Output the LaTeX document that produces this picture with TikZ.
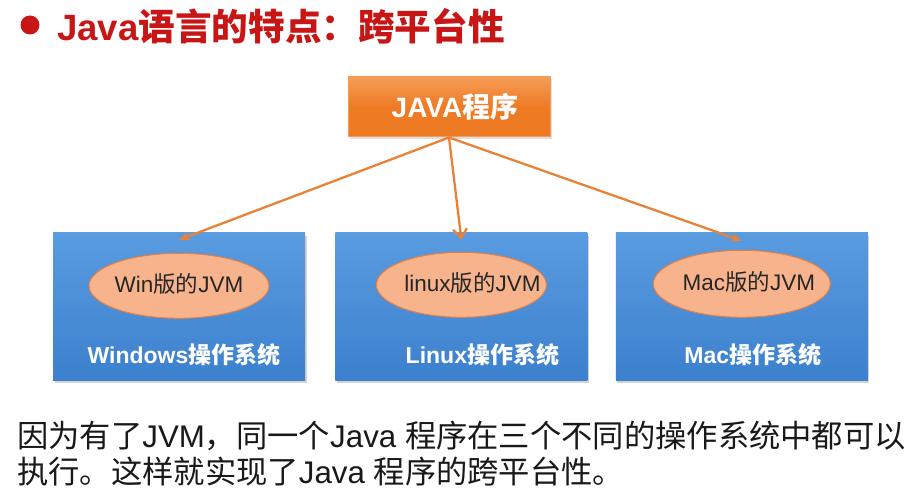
\documentclass[tikz,border=0pt]{standalone}
\usepackage{fontspec}
\setmainfont{Liberation Sans}
\newfontfamily\cjk{Noto Sans CJK SC}
\newcommand{\zh}[1]{{\cjk #1}}
\usetikzlibrary{arrows.meta, positioning, shadows, shapes.geometric}

\definecolor{titlered}{RGB}{200,22,22}
\definecolor{javaorange}{RGB}{238,122,36}
\definecolor{javaorangelight}{RGB}{246,156,86}
\definecolor{osblue}{RGB}{60,128,206}
\definecolor{osbluelight}{RGB}{90,156,224}
\definecolor{jvmfill}{RGB}{247,180,140}
\definecolor{jvmdraw}{RGB}{226,126,70}
\definecolor{arroworange}{RGB}{232,130,56}

\begin{document}
\begin{tikzpicture}[
    x=1pt, y=-1pt,
    >={Stealth[length=11pt, width=9pt]},
    % Define styles for the different node types
    javabox/.style={rectangle, draw=javaorangelight, line width=1pt, top color=javaorangelight, bottom color=javaorange, middle color=javaorange, text=white, font=\fontsize{28}{30}\selectfont\bfseries, minimum width=202pt, minimum height=60pt, inner sep=0pt, drop shadow={opacity=0.25, shadow xshift=2pt, shadow yshift=-2pt}},
    osbox/.style={rectangle, top color=osbluelight, bottom color=osblue, minimum width=252pt, minimum height=147pt, inner sep=0pt, drop shadow={opacity=0.35, shadow xshift=1.5pt, shadow yshift=-3pt}},
    jvmellipse/.style={ellipse, draw=jvmdraw, line width=1pt, fill=jvmfill, minimum width=178pt, minimum height=65pt, inner sep=0pt},
    jvmtext/.style={text=black!85, font=\fontsize{22.5}{24}\selectfont, inner sep=0pt, label distance=0pt, yshift=2pt},
    oslabel/.style={text=white, font=\fontsize{23}{25}\selectfont\bfseries, inner sep=0pt},
    flow/.style={->, draw=arroworange, line width=2.3pt},
]

% bounding box of the slide
\path[use as bounding box] (0,0) rectangle (910,494);

% -------------------------
% Title
% -------------------------
\node (bullet) [circle, fill=titlered, minimum size=19pt, inner sep=0pt] at (30,25) {};
\node (title) [anchor=west, text=titlered, font=\fontsize{36.6}{38}\selectfont\bfseries, inner sep=0pt] at (57,26) {Java\zh{语言的特点：跨平台性}};

% -------------------------
% Program and OS boxes
% -------------------------
\node (java) [javabox] at (449,107) {\hspace*{12pt}JAVA\zh{程序}};

\node (winos) [osbox] at (179,306.5) {};
\node (linuxos) [osbox, right=30pt of winos] {};
\node (macos) [osbox, right=28pt of linuxos] {};

% JVMs inside the boxes
\node (winjvm) [jvmellipse, below=20pt of winos.north, minimum width=180pt, label={[jvmtext]center:Win\zh{版的}JVM}] {};
\node (linuxjvm) [jvmellipse, below=19pt of linuxos.north, minimum width=170pt, label={[jvmtext, xshift=11pt]center:linux\zh{版的}JVM}] {};
\node (macjvm) [jvmellipse, below=17pt of macos.north, minimum width=177pt, minimum height=67pt, label={[jvmtext, xshift=7pt]center:Mac\zh{版的}JVM}] {};

% OS names
\node (winlabel) [oslabel] at ([xshift=5pt, yshift=25pt]winos.south) {Windows\zh{操作系统}};
\node (linuxlabel) [oslabel] at ([xshift=21pt, yshift=25pt]linuxos.south) {Linux\zh{操作系统}};
\node (maclabel) [oslabel] at ([xshift=11pt, yshift=25pt]macos.south) {Mac\zh{操作系统}};

% -------------------------
% Arrow Connections
% -------------------------
\draw[flow] (java.south) -- ([yshift=13pt]winjvm.north);
\draw[flow, -{Straight Barb[length=9pt, width=14pt]}] (java.south) -- ([yshift=12pt]linuxjvm.north);
\draw[flow] (java.south) -- ([yshift=9pt]macjvm.north);

% -------------------------
% Note below
% -------------------------
\node (note) [anchor=north west, align=left, text=black!90, font=\fontsize{31.3}{36}\selectfont, inner sep=0pt] at (17,421)
  {\zh{因为有了}JVM\zh{，同一个}Java \zh{程序在三个不同的操作系统中都可以}\\
   \zh{执行。这样就实现了}Java \zh{程序的跨平台性。}};

\end{tikzpicture}
\end{document}
